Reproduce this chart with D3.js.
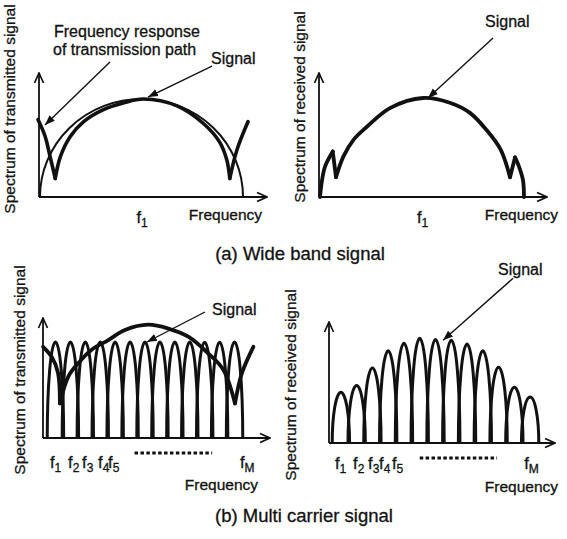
<!DOCTYPE html>
<html>
<head>
<meta charset="utf-8">
<script src="https://cdn.jsdelivr.net/npm/d3@7"></script>
<style>
  body { margin: 0; background: #fff; }
  svg { display: block; font-family: "Liberation Sans", Arial, Helvetica, sans-serif; }
  text { stroke: #111; stroke-width: 0.3px; }
</style>
</head>
<body>
<svg id="chart" width="567" height="539"></svg>
<script>
// ---- data ----
// (a) wide band: frequency normalised so the signal band is [-1, 1] around f1
const wideBand = [-1, 1];
const widePeak = 1;
// frequency response of the transmission path, pieces split at the notches
const pathResponse = [
  [[-1.02, 0.79], [-0.95, 0.62], [-0.90, 0.41], [-0.85, 0.19]],
  [[-0.85, 0.19], [-0.80, 0.41], [-0.70, 0.62], [-0.57, 0.77], [-0.38, 0.89], [-0.18, 0.96],
   [0.02, 1.0], [0.35, 0.93], [0.61, 0.75], [0.77, 0.56], [0.84, 0.38], [0.87, 0.19]],
  [[0.87, 0.19], [0.94, 0.48], [1.05, 0.77]]
];
// received wide band spectrum
const receivedWide = [
  [[-1.0, 0], [-0.98, 0.17], [-0.95, 0.31], [-0.875, 0.46]],
  [[-0.875, 0.46], [-0.843, 0.2]],
  [[-0.843, 0.2], [-0.77, 0.41], [-0.67, 0.58], [-0.54, 0.71], [-0.31, 0.90], [0.01, 1.0],
   [0.28, 0.95], [0.47, 0.85], [0.63, 0.68], [0.77, 0.48], [0.863, 0.2]],
  [[0.863, 0.2], [0.912, 0.40]],
  [[0.912, 0.40], [0.95, 0.31], [0.99, 0.17], [1.0, 0]]
];

// (b) multi carrier: carrier index 1..M (M = 13)
const carriers = [1, 2, 3, 4, 5, 6, 7, 8, 9, 10, 11, 12, 13];
const txLevel  = [1, 1, 1, 1, 1, 1, 1, 1, 1, 1, 1, 1, 1];
const rxLevel  = [0.53, 0.60, 0.78, 0.96, 1.04, 1.09, 1.08, 1.07, 1.03, 0.96, 0.79, 0.58, 0.48];
const multiResponse = [
  [[0.17, 0.95], [0.77, 0.84], [1.17, 0.68], [1.30, 0.36]],
  [[1.30, 0.36], [1.86, 0.64], [2.53, 0.78], [3.43, 0.92], [4.54, 1.02], [5.66, 1.125],
   [7.22, 1.18], [8.56, 1.14], [9.9, 1.055], [11.24, 0.88], [12.25, 0.71], [13.03, 0.36]],
  [[13.03, 0.36], [13.48, 0.67], [14.26, 0.95]]
];
const tickSubs = ["1", "2", "3", "4", "5", "M"];
const tickPosTx = [0.97, 2.18, 3.12, 4.19, 4.86, 13.70];
const tickPosRx = [0.94, 2.09, 3.04, 3.74, 4.56, 12.94];
const dotsTx = [6.3, 11.5];
const dotsRx = [6.0, 10.9];

// ---- drawing ----
const ink = "#111";
const svg = d3.select("#chart");
const defs = svg.append("defs");

defs.append("marker")
  .attr("id", "axisHead").attr("viewBox", "-11 -6 12 12")
  .attr("refX", 0).attr("refY", 0)
  .attr("markerWidth", 12).attr("markerHeight", 12)
  .attr("markerUnits", "userSpaceOnUse").attr("orient", "auto")
  .append("path").attr("d", "M-10,-4.5L0,0L-10,4.5")
  .attr("fill", "none").attr("stroke", ink).attr("stroke-width", 1.7);

defs.append("marker")
  .attr("id", "tipHead").attr("viewBox", "-10 -5 11 10")
  .attr("refX", 0).attr("refY", 0)
  .attr("markerWidth", 11).attr("markerHeight", 10)
  .attr("markerUnits", "userSpaceOnUse").attr("orient", "auto")
  .append("path").attr("d", "M-10,-3.8L0,0L-10,3.8Z").attr("fill", ink);

function panel(p) {
  const x = d3.scaleLinear().domain(p.xd).range(p.xr);
  const y = d3.scaleLinear().domain([0, 1]).range(p.yr);
  const g = svg.append("g");
  // axes with open arrow heads
  g.append("line").attr("x1", p.ox).attr("y1", y(0)).attr("x2", p.ox).attr("y2", p.top)
    .attr("stroke", ink).attr("stroke-width", 1.8).attr("marker-end", "url(#axisHead)");
  g.append("line").attr("x1", p.ox).attr("y1", y(0)).attr("x2", p.right).attr("y2", y(0))
    .attr("stroke", ink).attr("stroke-width", 1.8).attr("marker-end", "url(#axisHead)");
  // y label
  g.append("text")
    .attr("transform", `translate(${p.ylx},${p.yly}) rotate(-90)`)
    .attr("text-anchor", "middle").attr("font-size", 15.5).attr("fill", ink)
    .text(p.ylabel);
  // x label
  g.append("text").attr("x", p.xlx).attr("y", p.xly)
    .attr("text-anchor", "end").attr("font-size", 15.5).attr("fill", ink)
    .text("Frequency");
  return { g, x, y };
}

const curve = d3.line().curve(d3.curveCatmullRom.alpha(0.5));

function drawPieces(P, pieces, width) {
  const line = curve.x(d => P.x(d[0])).y(d => P.y(d[1]));
  pieces.forEach(seg => {
    P.g.append("path").attr("d", line(seg))
      .attr("fill", "none").attr("stroke", ink).attr("stroke-width", width)
      .attr("stroke-linejoin", "round").attr("stroke-linecap", "round");
  });
}

function arch(P, f0, f1, level) {
  const x0 = P.x(f0), x1 = P.x(f1), b = P.y(0);
  return `M${x0},${b}A${(x1 - x0) / 2},${b - P.y(level)} 0 0 1 ${x1},${b}`;
}

function annotate(P, tip, dx, dy) {
  const tx = P.x(tip[0]), ty = P.y(tip[1]);
  P.g.append("line").attr("x1", tx + dx).attr("y1", ty + dy).attr("x2", tx).attr("y2", ty)
    .attr("stroke", ink).attr("stroke-width", 1.4).attr("marker-end", "url(#tipHead)");
}

function label(P, x, y, str, size) {
  P.g.append("text").attr("x", x).attr("y", y).attr("font-size", size || 16)
    .attr("fill", ink).text(str);
}

function fLabel(P, pos, sub, y) {
  const t = P.g.append("text").attr("x", P.x(pos) - 5).attr("y", y)
    .attr("font-size", 16.5).attr("fill", ink).text("f");
  t.append("tspan").attr("dy", 4).attr("font-size", 12).text(sub);
}

// (a) left: transmitted wide band signal
const TL = panel({ xd: wideBand, xr: [40, 243], yr: [197, 99], ox: 39, top: 73, right: 267,
  ylx: 15, yly: 109, ylabel: "Spectrum of transmitted signal", xlx: 262, xly: 220 });
TL.g.append("path").attr("d", arch(TL, wideBand[0], wideBand[1], widePeak))
  .attr("fill", "none").attr("stroke", ink).attr("stroke-width", 2);
drawPieces(TL, pathResponse, 3.6);
annotate(TL, [-0.951, 0.735], 65, -63);
annotate(TL, [0.064, 1.02], 64, -31);
label(TL, 54, 37, "Frequency response");
label(TL, 53, 55, "of transmission path");
label(TL, 211, 64, "Signal");
fLabel(TL, 0, "1", 223);

// (a) right: received wide band signal
const TR = panel({ xd: wideBand, xr: [320, 524], yr: [197, 98], ox: 319, top: 73, right: 547,
  ylx: 305, yly: 107, ylabel: "Spectrum of received signal", xlx: 558, xly: 220 });
drawPieces(TR, receivedWide, 3.8);
annotate(TR, [0.059, 1.0], 65, -60);
label(TR, 485, 27, "Signal");
fLabel(TR, 0, "1", 223);

// (b) left: transmitted multi carrier signal
const BL = panel({ xd: [0.5, 13.5], xr: [48, 242], yr: [438, 342], ox: 43, top: 318, right: 270,
  ylx: 25, yly: 370, ylabel: "Spectrum of transmitted signal", xlx: 258, xly: 490 });
carriers.forEach((c, i) => {
  BL.g.append("path").attr("d", arch(BL, c - 0.55, c + 0.55, txLevel[i]))
    .attr("fill", "none").attr("stroke", ink).attr("stroke-width", 3);
});
drawPieces(BL, multiResponse, 3.8);
annotate(BL, [7.13, 1.0], 58, -30);
label(BL, 212, 315, "Signal");

// (b) right: received multi carrier signal
const BR = panel({ xd: [0.5, 13.5], xr: [333, 538], yr: [443, 347], ox: 329, top: 322, right: 555,
  ylx: 296, yly: 385, ylabel: "Spectrum of received signal", xlx: 558, xly: 492 });
carriers.forEach((c, i) => {
  BR.g.append("path").attr("d", arch(BR, c - 0.55, c + 0.55, rxLevel[i]))
    .attr("fill", "none").attr("stroke", ink).attr("stroke-width", 3);
});
annotate(BR, [7.48, 1.07], 70, -62);
label(BR, 498, 275, "Signal");

// carrier tick labels and the dotted "..." between f5 and fM
[[BL, tickPosTx, dotsTx, 468], [BR, tickPosRx, dotsRx, 469]].forEach(([P, pos, dots, ty]) => {
  pos.forEach((p, i) => fLabel(P, p, tickSubs[i], ty));
  P.g.append("line").attr("x1", P.x(dots[0])).attr("x2", P.x(dots[1]))
    .attr("y1", P.y(0) + 15).attr("y2", P.y(0) + 15)
    .attr("stroke", ink).attr("stroke-width", 3).attr("stroke-dasharray", "3.5,2.4");
});

// captions
svg.append("text").attr("x", 300).attr("y", 260).attr("text-anchor", "middle")
  .attr("font-size", 18.5).attr("fill", ink).text("(a) Wide band signal");
svg.append("text").attr("x", 304).attr("y", 522).attr("text-anchor", "middle")
  .attr("font-size", 18.5).attr("fill", ink).text("(b) Multi carrier signal");
</script>
</body>
</html>
